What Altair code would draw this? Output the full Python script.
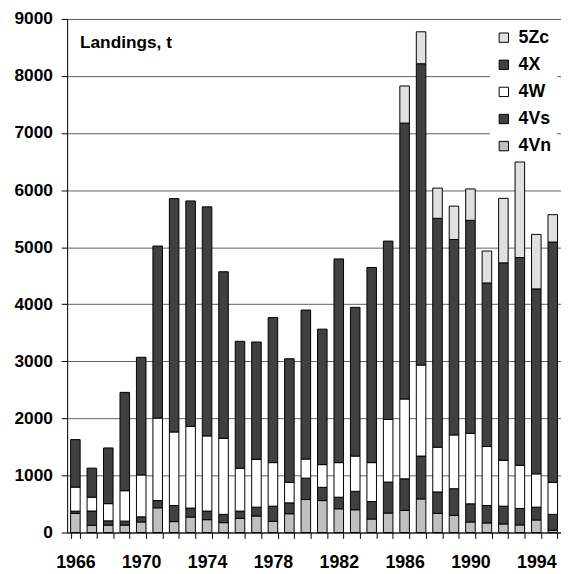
import altair as alt
import pandas as pd

years = list(range(1966, 1996))
v4Vn = [335, 127, 130, 130, 185, 433, 191, 271, 225, 173, 248, 289, 196, 329, 578,
        560, 416, 399, 237, 341, 387, 589, 335, 300, 185, 168, 150, 133, 220, 40]
v4Vs = [40, 250, 75, 70, 90, 127, 282, 157, 151, 145, 128, 156, 266, 191, 375,
        232, 203, 323, 306, 543, 554, 751, 376, 468, 318, 305, 312, 289, 225, 278]
v4W = [421, 242, 301, 533, 734, 1445, 1289, 1432, 1317, 1334, 751, 837, 763, 358, 335,
       398, 606, 618, 682, 1097, 1399, 1595, 785, 942, 1235, 1035, 803, 757, 583, 560]
v4X = [832, 509, 976, 1723, 2062, 3015, 4090, 3951, 4014, 2918, 2224, 2057, 2542, 2167, 2611,
       2374, 3570, 2606, 3420, 3126, 4835, 5280, 4010, 3425, 3733, 2865, 3461, 3639, 3241, 4212]
v5Zc = [0] * 20 + [650, 560, 530, 585, 550, 560, 1130, 1675, 955, 480]

series_names = ["4Vn", "4Vs", "4W", "4X", "5Zc"]
series_vals = [v4Vn, v4Vs, v4W, v4X, v5Zc]
series_colors = {"4Vn": "#c0c0c0", "4Vs": "#404040", "4W": "#ffffff",
                 "4X": "#404040", "5Zc": "#e0e0e0"}
legend_order = ["5Zc", "4X", "4W", "4Vs", "4Vn"]

rows = []
for k, (name, vals) in enumerate(zip(series_names, series_vals)):
    for yr, v in zip(years, vals):
        if v > 0:
            rows.append({"year": yr, "series": name, "value": v, "ord": k})
df = pd.DataFrame(rows)

FONT = "Liberation Sans, Arial, sans-serif"

bars = alt.Chart(df).mark_bar(stroke="black", strokeWidth=1).encode(
    x=alt.X("year:O",
            scale=alt.Scale(paddingInner=0.42, paddingOuter=0.21),
            axis=alt.Axis(title=None, labelAngle=0, tickBand="extent",
                          labelExpr="(datum.value - 1966) % 4 == 0 ? datum.label : ''",
                          labelFont=FONT, labelFontSize=18, labelFontWeight=700,
                          labelColor="black", labelPadding=15, tickSize=6,
                          tickColor="black", domainColor="black", grid=False)),
    y=alt.Y("value:Q", stack="zero",
            scale=alt.Scale(domain=[0, 9000], nice=False),
            axis=alt.Axis(title=None, values=list(range(0, 9001, 1000)), format="d",
                          labelFont=FONT, labelFontSize=17.5, labelFontWeight=700,
                          labelColor="black", labelPadding=9, tickSize=6,
                          tickColor="black", domainColor="black",
                          grid=True, gridColor="#606060", gridWidth=1)),
    color=alt.Color("series:N",
                    scale=alt.Scale(domain=legend_order,
                                    range=[series_colors[s] for s in legend_order]),
                    legend=alt.Legend(title=None, orient="none", legendX=429, legendY=5,
                                      fillColor="white", padding=5,
                                      symbolType="square", symbolSize=90,
                                      symbolStrokeColor="black", symbolStrokeWidth=1,
                                      symbolOpacity=1,
                                      labelFont=FONT, labelFontSize=18,
                                      labelFontWeight=700, labelColor="black",
                                      labelOffset=6, rowPadding=9.5)),
    order=alt.Order("ord:Q", sort="ascending"),
)

title_df = pd.DataFrame({"t": ["Landings, t"]})
title = alt.Chart(title_df).mark_text(
    align="left", baseline="alphabetic", font=FONT, fontSize=17.5,
    fontWeight=700, color="black"
).encode(x=alt.value(13), y=alt.value(29), text="t:N")

chart = alt.layer(bars, title).properties(
    width=501, height=521,
    autosize=alt.AutoSizeParams(type="none"),
    padding={"left": 60, "top": 7, "right": 0, "bottom": 40},
).configure_view(stroke=None).configure(background="white")

chart.save("out.html", embed_options={"renderer": "svg", "actions": False})
